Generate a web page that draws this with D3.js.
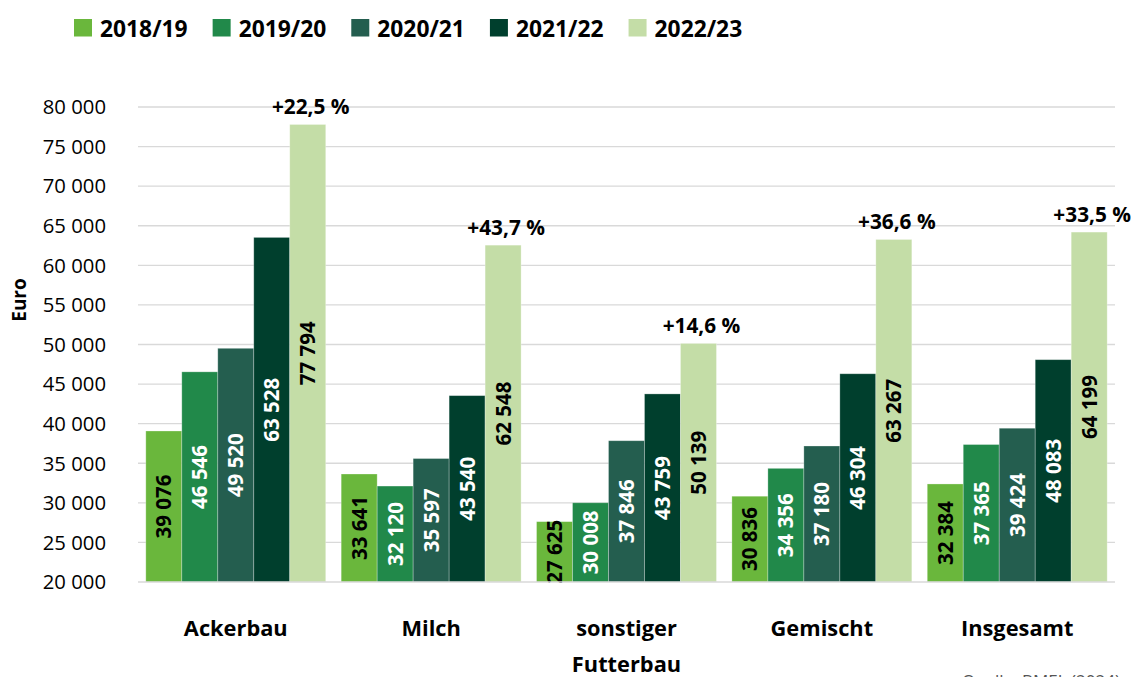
<!DOCTYPE html>
<html><head><meta charset="utf-8">
<script src="https://cdn.jsdelivr.net/npm/d3@7"></script>
<style>
html,body{margin:0;padding:0;background:#fff;overflow:hidden;}
svg{display:block;font-family:"Open Sans",sans-serif;}
</style></head>
<body><svg id="c" width="1135" height="677"></svg>
<script>
const categories = [["Ackerbau"], ["Milch"], ["sonstiger", "Futterbau"], ["Gemischt"], ["Insgesamt"]];
const seriesNames = ["2018/19", "2019/20", "2020/21", "2021/22", "2022/23"];
const values = {
  "2018/19": [39076, 33641, 27625, 30836, 32384],
  "2019/20": [46546, 32120, 30008, 34356, 37365],
  "2020/21": [49520, 35597, 37846, 37180, 39424],
  "2021/22": [63528, 43540, 43759, 46304, 48083],
  "2022/23": [77794, 62548, 50139, 63267, 64199]
};
const changeLabels = ["+22,5 %", "+43,7 %", "+14,6 %", "+36,6 %", "+33,5 %"];
const yTicks = [20000, 25000, 30000, 35000, 40000, 45000, 50000, 55000, 60000, 65000, 70000, 75000, 80000];
const colors = ["#6ab73c", "#21894a", "#245e4f", "#003f2d", "#c4dda7"];
const labelColors = ["#000", "#fff", "#fff", "#fff", "#000"];

const svg = d3.select("#c");
const m = {left: 138, right: 1115, top: 107, bottom: 582};
const fmt = d3.formatLocale({decimal: ",", thousands: " ", grouping: [3], currency: ["", ""]}).format(",d");

const x0 = d3.scaleBand().domain(d3.range(categories.length)).range([m.left, m.right]).paddingInner(0.079).paddingOuter(0.04);
const x1 = d3.scaleBand().domain(seriesNames).range([0, x0.bandwidth()]);
const y = d3.scaleLinear().domain([20000, 80000]).range([m.bottom, m.top]);

// gridlines
svg.append("g").selectAll("line").data(yTicks.slice(1)).join("line")
  .attr("x1", m.left).attr("x2", m.right)
  .attr("y1", d => y(d)).attr("y2", d => y(d))
  .attr("stroke", "#d9d9d9").attr("stroke-width", 1.3);

// y tick labels
svg.append("g").selectAll("text").data(yTicks).join("text")
  .attr("x", 106).attr("y", d => y(d)).attr("dy", "0.36em")
  .attr("text-anchor", "end").attr("font-size", 20.3).attr("fill", "#000")
  .text(d => fmt(d));

// y title
svg.append("text").attr("transform", "translate(26,300) rotate(-90)")
  .attr("text-anchor", "middle").attr("font-size", 19).attr("font-weight", "bold").text("Euro");

// bars
const groups = svg.append("g").selectAll("g").data(categories).join("g")
  .attr("transform", (d, i) => `translate(${x0(i)},0)`);

seriesNames.forEach((s, si) => {
  groups.append("rect")
    .attr("x", x1(s)).attr("width", x1.bandwidth())
    .attr("y", (d, i) => y(values[s][i]))
    .attr("height", (d, i) => y(20000) - y(values[s][i]))
    .attr("fill", colors[si])
    .attr("stroke", "rgba(255,255,255,0.35)").attr("stroke-width", 0.8);
});

// axis line
svg.append("line").attr("x1", m.left).attr("x2", m.right).attr("y1", m.bottom).attr("y2", m.bottom)
  .attr("stroke", "#d9d9d9").attr("stroke-width", 1.5);

// value labels
seriesNames.forEach((s, si) => {
  groups.append("text")
    .attr("transform", (d, i) => {
      const cx = x1(s) + x1.bandwidth() / 2;
      const cy = (y(values[s][i]) + y(20000)) / 2;
      return `translate(${cx},${cy}) rotate(-90)`;
    })
    .attr("text-anchor", "middle").attr("dy", "0.36em")
    .attr("font-size", 20.5).attr("font-weight", "bold")
    .attr("fill", labelColors[si])
    .text((d, i) => fmt(values[s][i]));
});

// change labels
groups.append("text")
  .attr("x", x1("2022/23") + x1.bandwidth() / 2 + 3)
  .attr("y", (d, i) => y(values["2022/23"][i]) - 10)
  .attr("text-anchor", "middle").attr("font-size", 20.8).attr("font-weight", "bold")
  .text((d, i) => changeLabels[i]);

// category labels
groups.each(function(d) {
  const t = d3.select(this).append("text")
    .attr("x", x0.bandwidth() / 2).attr("y", 636)
    .attr("text-anchor", "middle").attr("font-size", 21.8).attr("font-weight", "bold");
  d.forEach((line, li) => t.append("tspan").attr("x", x0.bandwidth() / 2).attr("dy", li ? 36 : 0).text(line));
});

// legend
const leg = svg.append("g");
let lx = 74;
seriesNames.forEach((s, si) => {
  leg.append("rect").attr("x", lx).attr("y", 19).attr("width", 18).attr("height", 17.5).attr("fill", colors[si]);
  const t = leg.append("text").attr("x", lx + 26).attr("y", 37).attr("font-size", 22.8).attr("font-weight", "bold").text(s);
  lx += 26 + t.node().getComputedTextLength() + 25;
});

// source
svg.append("text").attr("x", 1120).attr("y", 687).attr("text-anchor", "end")
  .attr("font-size", 17).attr("fill", "#555").text("Quelle: BMEL (2024)");
</script></body></html>
